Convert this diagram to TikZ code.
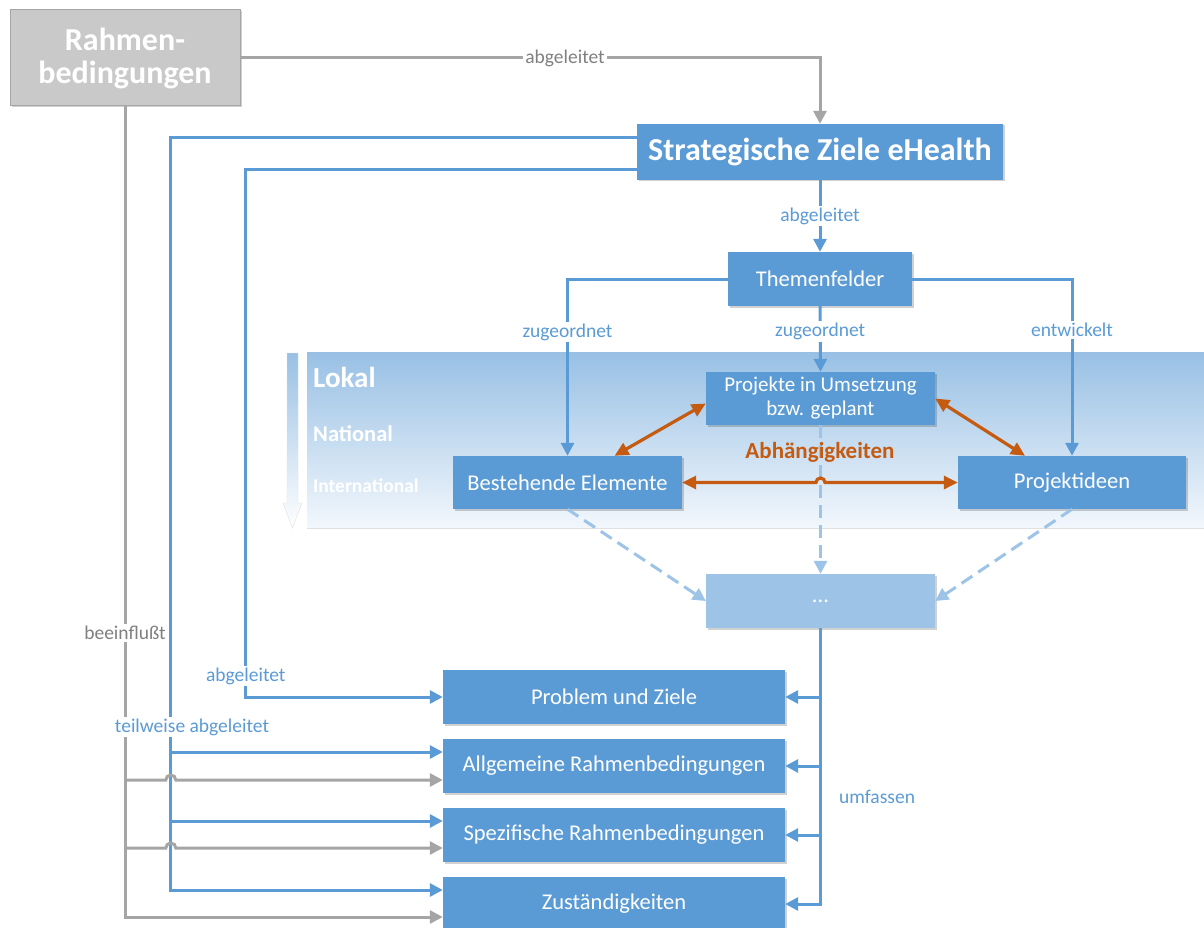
\documentclass[tikz,border=0pt]{standalone}
\usepackage{fontspec}
\setmainfont{Carlito}
\usetikzlibrary{arrows.meta,shadows,calc}
\definecolor{mblue}{HTML}{5B9BD5}
\definecolor{lblue}{HTML}{9DC3E6}
\definecolor{bandtop}{HTML}{98C0E4}
\definecolor{bandmid}{HTML}{B3D0EC}
\definecolor{bandbot}{HTML}{F2F7FC}
\definecolor{morange}{HTML}{C55A11}
\definecolor{mgray}{HTML}{A5A5A5}
\definecolor{rgray}{HTML}{C9C9C9}
\definecolor{tgray}{HTML}{808080}
\begin{document}
\begin{tikzpicture}[x=1pt,y=-1pt,
  >={Triangle[length=13pt,width=13pt]},
  shadowed/.style={drop shadow={shadow xshift=1.5pt,shadow yshift=-1.5pt,opacity=0.18,fill=black}},
  bbox/.style={shadowed, fill=mblue, text=white, inner sep=0pt, align=center,
    minimum height=54pt, font=\fontsize{22.5}{26}\selectfont},
  bline/.style={draw=mblue, line width=3pt},
  gline/.style={draw=mgray, line width=3pt},
  oline/.style={draw=morange, line width=3.2pt,
    {Triangle[length=14pt,width=13pt]}-{Triangle[length=14pt,width=13pt]}},
  dline/.style={draw=lblue, line width=3pt, dash pattern=on 13pt off 7pt,
    -{Triangle[length=13pt,width=13pt]}},
  blabel/.style={fill=white, text=mblue, inner sep=2pt, font=\fontsize{19.5}{22}\selectfont},
  glabel/.style={fill=white, text=tgray, inner sep=2pt, font=\fontsize{19.5}{22}\selectfont},
  lvl/.style={text=white, anchor=west, inner sep=0pt}
]
\useasboundingbox (0,0) rectangle (1204,928);
\fill[white] (0,0) rectangle (1204,928);

% band
\shade[top color=bandtop, middle color=bandmid, bottom color=bandbot,
  drop shadow={shadow xshift=0pt,shadow yshift=-1.5pt,opacity=0.12,fill=black}]
  (307,352) rectangle (1204,527);
% level arrow
\shade[top color=bandtop, bottom color=white, draw=white!88!black, line width=0.4pt]
  (287,353) -- (298,353) -- (298,503) -- (302,503) -- (292.5,528) -- (283,503) -- (287,503) -- cycle;
\node[lvl, font=\bfseries\fontsize{29}{32}\selectfont] (lokal) at (313,377) {Lokal};
\node[lvl, font=\bfseries\fontsize{22.5}{25}\selectfont] (national) at (313,434) {National};
\node[lvl, font=\bfseries\fontsize{19.5}{22}\selectfont] (international) at (313,486) {International};

% nodes
\node[bbox, fill=rgray, draw=mgray, line width=1pt, minimum width=230pt, minimum height=96pt,
  font=\bfseries\fontsize{32}{33}\selectfont] (rahmen) at (125,58) {Rahmen-\\bedingungen};
\node[bbox, minimum width=366pt, minimum height=56pt, font=\bfseries\fontsize{32}{34}\selectfont]
  (strat) at (820,152) {Strategische Ziele eHealth};
\node[bbox, minimum width=184pt] (them) at (820,279) {Themenfelder};
\node[bbox, minimum width=229pt, minimum height=53pt, font=\fontsize{21}{24}\selectfont]
  (proj) at (820.5,398.5) {Projekte in Umsetzung\\bzw. geplant};
\node[bbox, minimum width=229pt, minimum height=53pt] (best) at (567.5,482.5) {Bestehende Elemente};
\node[bbox, minimum width=228pt, minimum height=53pt] (pide) at (1072,482.5) {Projektideen};
\node[bbox, fill=lblue, drop shadow={opacity=0}, minimum width=229pt] (dots) at (820.5,601) {...};
\node[bbox, minimum width=342pt] (prob) at (614,697) {Problem und Ziele};
\node[bbox, minimum width=342pt] (allg) at (614,766) {Allgemeine Rahmenbedingungen};
\node[bbox, minimum width=342pt] (spez) at (614,835) {Spezifische Rahmenbedingungen};
\node[bbox, minimum width=342pt] (zust) at (614,904) {Zuständigkeiten};

% top gray connector
\draw[gline,->] (rahmen.east) -| (strat.north) node[pos=0.28, glabel] {abgeleitet};

% strat -> themenfelder
\draw[bline,->] (strat.south) -- (them.north) node[midway, blabel] {abgeleitet};
\draw[bline,->] (them.west) -| (best.north) node[pos=0.65, blabel] {zugeordnet};
\draw[bline,->] (them.south) -- (proj.north) node[pos=0.39, blabel] {zugeordnet};
\draw[bline,->] (them.east) -| (pide.north) node[pos=0.645, blabel] {entwickelt};

% dashed to dots
\draw[dline] (proj.south) -- (dots.north);
\draw[dline] (best.south) -- (dots.west);
\draw[dline] (pide.south) -- (dots.east);

% orange dependencies
\draw[oline] ([xshift=47pt]best.north) -- ([yshift=-5pt]proj.west);
\draw[oline] (proj.east) -- ([xshift=-47pt]pide.north);
\draw[oline] (best.east) -- ($(best.east -| proj.south)+(-4.5,0)$)
  arc[start angle=180, end angle=0, radius=4.5pt] -- (pide.west);
\node[text=morange, font=\bfseries\fontsize{23}{26}\selectfont, inner sep=0pt] (abh) at (820,452) {Abhängigkeiten};

% umfassen
\draw[bline,->] (dots.south) |- (zust.east);
\draw[bline,->] (dots.south |- prob.east) -- (prob.east);
\draw[bline,->] (dots.south |- allg.east) -- (allg.east);
\draw[bline,->] (dots.south |- spez.east) -- (spez.east);
\node[text=mblue, font=\fontsize{19.5}{22}\selectfont, anchor=west, inner sep=0pt] (umf) at (839,797) {umfassen};

% strat -> problem und ziele
\draw[bline,->] ([yshift=-18pt]strat.west) -| ([xshift=-197pt]prob.west) -- (prob.west);
% strat -> teilweise abgeleitet
\draw[bline,->] ([yshift=14pt]strat.west) -| ([xshift=-272pt,yshift=14pt]zust.west) -- ([yshift=14pt]zust.west);
\draw[bline,->] ([xshift=-272pt,yshift=14pt]allg.west) -- ([yshift=14pt]allg.west);
\draw[bline,->] ([xshift=-272pt,yshift=14pt]spez.west) -- ([yshift=14pt]spez.west);

% beeinflusst (gray)
\draw[gline,->] (rahmen.south) |- ([yshift=-13pt]zust.west);
\draw[gline,->] ([xshift=-318pt,yshift=-14pt]allg.west) -- ([xshift=-277pt,yshift=-14pt]allg.west)
  arc[start angle=180, end angle=0, radius=5pt] -- ([yshift=-14pt]allg.west);
\draw[gline,->] ([xshift=-318pt,yshift=-13pt]spez.west) -- ([xshift=-277pt,yshift=-13pt]spez.west)
  arc[start angle=180, end angle=0, radius=5pt] -- ([yshift=-13pt]spez.west);

% labels on left lines
\node[glabel] (beeinfl) at (125,633) {beeinflußt};
\node[blabel] (abg2) at ([xshift=-197pt,yshift=21pt]prob.west) {abgeleitet};
\node[blabel] (teilw) at (192,727) {teilweise abgeleitet};
\end{tikzpicture}
\end{document}
